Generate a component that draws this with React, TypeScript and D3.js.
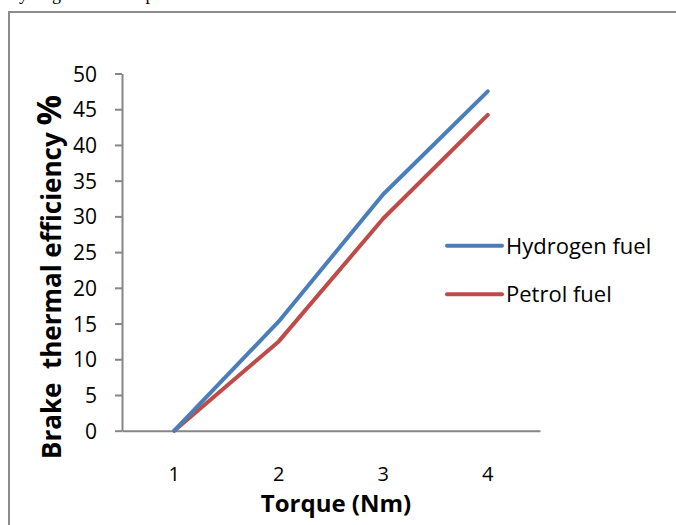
import React, { useRef, useEffect } from 'react';
import * as d3 from 'd3';

const torque = [1, 2, 3, 4];
const hydrogen = [0, 15.3, 33.1, 47.5];
const petrol = [0, 12.5, 29.7, 44.2];
const yTicks = [0, 5, 10, 15, 20, 25, 30, 35, 40, 45, 50];
const seriesNames = ['Hydrogen fuel', 'Petrol fuel'];
const seriesColors = ['#4A7EBB', '#BE4B48'];

const App = () => {
  const ref = useRef<SVGSVGElement>(null);

  useEffect(() => {
    const width = 676;
    const height = 525;
    const font = "'Open Sans', 'Noto Sans', sans-serif";
    const axisColor = '#868686';

    const svg = d3.select(ref.current);
    svg.selectAll('*').remove();
    svg.attr('width', width).attr('height', height);

    // caption tail cut off at the top of the page
    svg.append('text')
      .attr('x', 10).attr('y', 0)
      .attr('font-family', "'Liberation Serif', 'Times New Roman', serif")
      .attr('font-size', 18)
      .attr('fill', '#000')
      .text('hydrogen fuel and petrol fuel.');

    // chart frame
    svg.append('rect')
      .attr('x', 9).attr('y', 12)
      .attr('width', 700).attr('height', 540)
      .attr('fill', 'none')
      .attr('stroke', '#8c8c8c')
      .attr('stroke-width', 2);

    const x = d3.scaleBand<number>().domain(torque).range([122, 540]);
    const y = d3.scaleLinear().domain([0, 50]).range([430.7, 73.5]);
    const cx = (d: number) => (x(d) as number) + x.bandwidth() / 2;

    // y axis
    const yAxis = svg.append('g')
      .attr('transform', 'translate(122,0)')
      .call(d3.axisLeft(y).tickValues(yTicks).tickSize(7).tickPadding(18).tickSizeOuter(0));
    yAxis.select('.domain').attr('stroke', axisColor).attr('stroke-width', 2);
    yAxis.selectAll('.tick line').attr('stroke', axisColor).attr('stroke-width', 2);
    yAxis.selectAll('.tick text')
      .attr('font-family', font).attr('font-size', 21).attr('fill', '#000')
      .attr('dy', '0.36em');

    // x axis
    const xAxis = svg.append('g')
      .attr('transform', `translate(0,${y(0)})`)
      .call(d3.axisBottom(x).tickSize(0).tickSizeOuter(0));
    xAxis.select('.domain').attr('stroke', axisColor).attr('stroke-width', 2);
    xAxis.selectAll('.tick text')
      .attr('font-family', font).attr('font-size', 20).attr('fill', '#000')
      .attr('dy', '0').attr('y', 50);

    // lines
    const line = d3.line<number>()
      .x((_, i) => cx(torque[i]))
      .y(d => y(d));

    [petrol, hydrogen].forEach((values) => {
      const i = values === hydrogen ? 0 : 1;
      svg.append('path')
        .datum(values)
        .attr('d', line)
        .attr('fill', 'none')
        .attr('stroke', seriesColors[i])
        .attr('stroke-width', 4)
        .attr('stroke-linejoin', 'round')
        .attr('stroke-linecap', 'round');
    });

    // legend
    const legend = svg.append('g');
    seriesNames.forEach((name, i) => {
      const ly = 245.7 + i * 48.6;
      legend.append('line')
        .attr('x1', 447).attr('x2', 502)
        .attr('y1', ly).attr('y2', ly)
        .attr('stroke', seriesColors[i])
        .attr('stroke-width', 4)
        .attr('stroke-linecap', 'round');
      legend.append('text')
        .attr('x', 506).attr('y', ly + 7.8)
        .attr('font-family', font).attr('font-size', 22).attr('fill', '#000')
        .text(name);
    });

    // axis titles
    svg.append('text')
      .attr('x', 336).attr('y', 512)
      .attr('text-anchor', 'middle')
      .attr('font-family', font).attr('font-size', 24).attr('font-weight', 'bold')
      .attr('fill', '#000')
      .text('Torque (Nm)');

    const yTitle = svg.append('text')
      .attr('transform', 'translate(61,277) rotate(-90)')
      .attr('text-anchor', 'middle')
      .attr('font-family', font).attr('font-size', 26).attr('font-weight', 'bold')
      .attr('fill', '#000')
      .style('white-space', 'pre');
    yTitle.append('tspan').text('Brake  thermal efficiency ');
    yTitle.append('tspan').attr('font-size', 34).text('%');
  }, []);

  return (
    <svg ref={ref} style={{ position: 'absolute', left: 0, top: 0 }}></svg>
  );
};

export default App;
